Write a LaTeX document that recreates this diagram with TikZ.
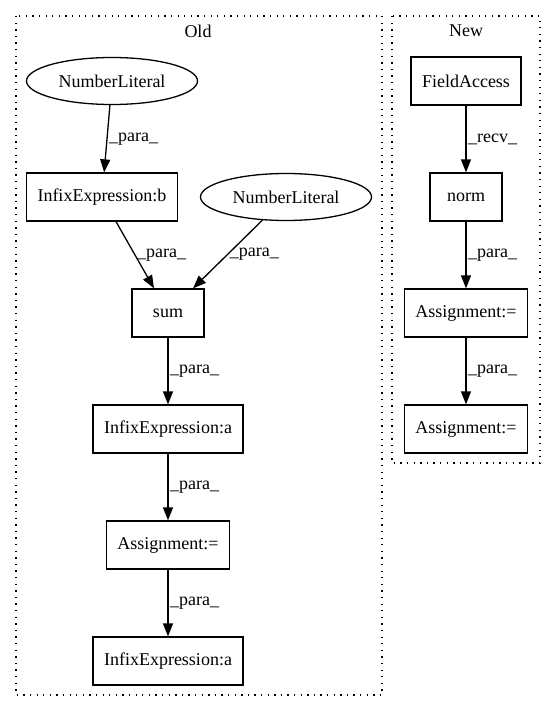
\documentclass[tikz,border=0pt]{standalone}
\usepackage{fontspec}
\setmainfont{Liberation Serif}
\usetikzlibrary{shapes.geometric,arrows.meta}

\begin{document}
\begin{tikzpicture}[x=1pt, y=-1pt,
                      every node/.style = {font=\fontsize{18}{22}\selectfont},
                      box/.style = {shape=rectangle, draw, line width=1.3pt,
                        minimum width=72pt, minimum height=48pt, inner xsep=11pt},
                      oval/.style = {shape=ellipse, draw, line width=1.3pt,
                        minimum width=171pt, minimum height=47pt, inner sep=0pt},
                      flow/.style = {draw, line width=1.3pt,
                        -{Triangle[length=13pt,width=10pt]}},
                      lbl/.style = {midway, right, inner sep=1.5pt},
                      cluster/.style = {draw, line width=1.3pt,
                        dash pattern=on 1.3pt off 5.3pt}]
  \useasboundingbox (0,0) rectangle (556,712);
  \draw[cluster] (16,16) rectangle (382,695);
  \draw[cluster] (392,16) rectangle (540,463);
  \node (oldlabel) at (198,31) {Old};
  \node (newlabel) at (466,31) {New};

  \node[oval] (numlit1) at (112,81) {NumberLiteral};
  \node[box] (infixb) at (102,197) {InfixExpression:b};
  \node[oval] (numlit2) at (286,197) {NumberLiteral};
  \node[box] (sum) at (168,313) {sum};
  \node[box] (infixa) at (168,429) {InfixExpression:a};
  \node[box] (assignold) at (168,545) {Assignment:=};
  \node[box] (infixa2) at (168,661) {InfixExpression:a};

  \node[box] (field) at (466,81) {FieldAccess};
  \node[box] (norm) at (466,197) {norm};
  \node[box] (assign1) at (466,313) {Assignment:=};
  \node[box] (assign2) at (466,429) {Assignment:=};

  \draw[flow] (numlit1) -- (infixb) node[lbl] {\_para\_};
  \draw[flow] (infixb) -- (sum) node[lbl] {\_para\_};
  \draw[flow] (numlit2) -- (sum) node[lbl] {\_para\_};
  \draw[flow] (sum) -- (infixa) node[lbl] {\_para\_};
  \draw[flow] (infixa) -- (assignold) node[lbl] {\_para\_};
  \draw[flow] (assignold) -- (infixa2) node[lbl] {\_para\_};

  \draw[flow] (field) -- (norm) node[lbl] {\_recv\_};
  \draw[flow] (norm) -- (assign1) node[lbl] {\_para\_};
  \draw[flow] (assign1) -- (assign2) node[lbl] {\_para\_};
\end{tikzpicture}
\end{document}
